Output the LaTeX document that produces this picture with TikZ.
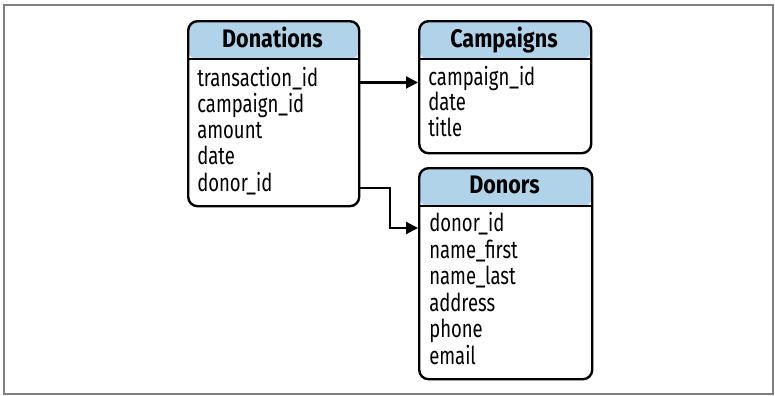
\documentclass[tikz,border=0pt]{standalone}
\usepackage{fontspec}
\setmainfont[FakeStretch=0.75]{Fira Sans}
\newfontfamily\hdfont[FakeStretch=0.85]{Fira Sans}
\usetikzlibrary{arrows.meta}
\definecolor{hb}{RGB}{176,211,234}
\definecolor{fr}{RGB}{128,128,128}

\begin{document}
\begin{tikzpicture}[x=0.75pt, y=-0.75pt, >={Triangle[length=9pt,width=9pt]},
    font=\fontsize{18.5}{22}\selectfont]

\tikzset{
    tbl/.style={draw, line width=1.8pt, rounded corners=7pt, anchor=north west,
        inner sep=0pt,
        path picture={
            \fill[hb] (path picture bounding box.north west) rectangle
                ([yshift=-28.5pt]path picture bounding box.north east);
            \draw[line width=1.8pt]
                ([yshift=-28.5pt]path picture bounding box.north west) --
                ([yshift=-28.5pt]path picture bounding box.north east);
        }},
    ttl/.style={font=\hdfont\fontsize{19}{22}\selectfont\bfseries, anchor=base},
    row/.style={anchor=base west, inner sep=0pt},
    lnk/.style={->, line width=1.6pt},
}

% outer frame
\useasboundingbox (0,0) rectangle (775,396);
\draw[fr, line width=1.5pt] (4,5) rectangle (773,394);

% ── Donations ──
\node[tbl, minimum width=128.25pt, minimum height=138.75pt] (don) at (187,20) {};
\node[ttl] (don-t) at (272.5,47) {Donations};
\foreach \f [count=\i] in {transaction\_id, campaign\_id, amount, date, donor\_id}
    \node[row] (don-\i) at (197,{86+26.3*(\i-1)}) {\f};

% ── Campaigns ──
\node[tbl, minimum width=129pt, minimum height=99pt] (cam) at (418,20) {};
\node[ttl] (cam-t) at (504,47) {Campaigns};
\foreach \f [count=\i] in {campaign\_id, date, title}
    \node[row] (cam-\i) at (428,{85+25.5*(\i-1)}) {\f};

% ── Donors ──
\node[tbl, minimum width=129.75pt, minimum height=158.25pt] (dnr) at (418,167) {};
\node[ttl] (dnr-t) at (504.5,193) {Donors};
\foreach \f [count=\i] in {donor\_id, name\_first, name\_last, address, phone, email}
    \node[row] (dnr-\i) at (429,{231.5+26.6*(\i-1)}) {\f};

% links
\draw[lnk] (don.east |- don-1.mid) -- (cam.west |- don-1.mid);
\draw[lnk] (don.east |- don-5.mid) -- ++(30,0) |- (dnr.west |- dnr-1.mid);

\end{tikzpicture}
\end{document}
